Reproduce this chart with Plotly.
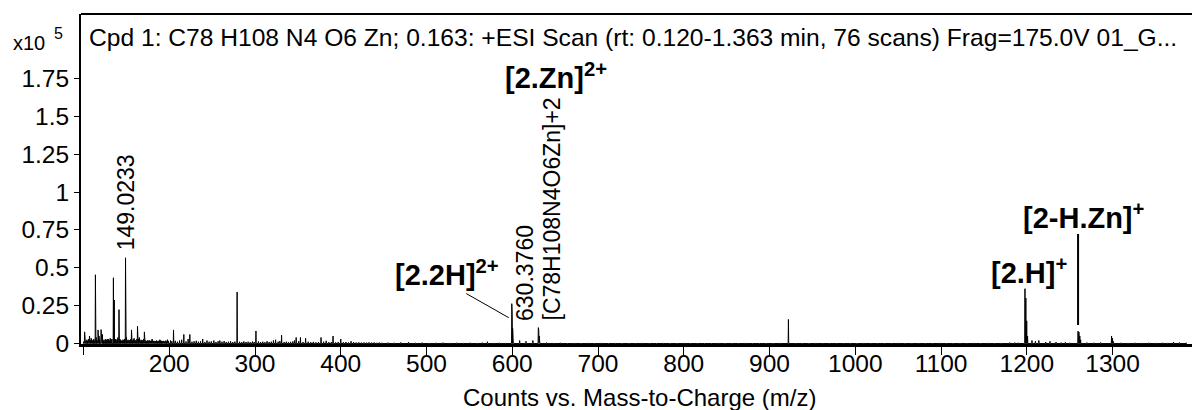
import plotly.graph_objects as go

# ---------------- data (intensity in units of 1e5 counts) ----------------
peak_mz = [101.3, 107.0, 113.9, 117.0, 120.5, 128.0, 134.9, 135.9, 141.4, 149.0233,
           156.0, 163.0, 171.0, 180.0, 189.0, 198.0, 205.0, 217.0, 224.0, 239.0,
           252.0, 259.0, 279.16, 301.1, 324.0, 331.0, 348.0, 353.0, 359.0, 377.0,
           391.0, 400.0, 412.0, 479.0, 571.0, 599.42, 599.92, 600.42, 600.92, 608.6,
           616.0, 624.0, 630.376, 630.876, 631.376, 631.876, 922.01, 1180.0, 1197.84, 1198.84,
           1199.84, 1200.84, 1206.0, 1210.0, 1214.0, 1222.0, 1227.0, 1234.0, 1245.0, 1259.75,
           1260.75, 1261.75, 1262.75, 1298.8, 1299.8, 1300.8, 1371.0]
peak_int = [0.077, 0.05, 0.454, 0.09, 0.092, 0.03, 0.434, 0.287, 0.224, 0.566,
            0.09, 0.114, 0.077, 0.03, 0.025, 0.025, 0.09, 0.06, 0.06, 0.03,
            0.02, 0.02, 0.34, 0.083, 0.025, 0.055, 0.04, 0.04, 0.035, 0.04,
            0.05, 0.03, 0.015, 0.01, 0.012, 0.263, 0.20, 0.10, 0.04, 0.02,
            0.015, 0.02, 0.105, 0.09, 0.05, 0.02, 0.159, 0.006, 0.362, 0.30,
            0.15, 0.05, 0.02, 0.015, 0.02, 0.01, 0.015, 0.01, 0.008, 0.082,
            0.075, 0.05, 0.025, 0.05, 0.035, 0.015, 0.01]

noise_low_mz = [100.2, 101.9, 102.8, 104.0, 104.9, 105.8, 106.5, 108.1, 109.0, 110.1,
                111.0, 112.0, 112.9, 114.8, 115.9, 118.1, 119.0, 121.2, 122.1, 123.1,
                124.0, 125.1, 126.0, 127.1, 129.1, 130.0, 131.1, 132.0, 133.1, 137.1,
                138.0, 139.1, 140.1, 142.2, 143.1, 144.0, 145.1, 146.0, 147.1, 148.1,
                150.0, 151.1, 152.0, 153.1, 154.0, 155.1, 157.0, 158.1, 159.0, 160.1,
                161.0, 162.1, 164.0, 165.1, 166.0, 167.1, 168.0, 169.1, 170.0, 172.1,
                173.0, 174.1, 175.0, 176.1, 177.0, 178.1, 179.0, 181.1, 182.0, 183.1,
                184.0, 185.1, 186.0, 187.1, 188.0, 190.1, 191.0, 192.1, 193.0, 194.1,
                195.0, 196.1, 197.0, 199.1]
noise_low_int = [0.012, 0.03, 0.018, 0.025, 0.015, 0.028, 0.02, 0.022, 0.035, 0.016,
                 0.024, 0.03, 0.018, 0.04, 0.022, 0.05, 0.026, 0.035, 0.06, 0.02,
                 0.025, 0.018, 0.03, 0.022, 0.028, 0.02, 0.035, 0.025, 0.03, 0.03,
                 0.022, 0.028, 0.04, 0.03, 0.025, 0.02, 0.018, 0.026, 0.022, 0.03,
                 0.04, 0.02, 0.025, 0.018, 0.022, 0.03, 0.02, 0.026, 0.035, 0.018,
                 0.022, 0.028, 0.03, 0.04, 0.02, 0.025, 0.018, 0.022, 0.03, 0.02,
                 0.018, 0.015, 0.022, 0.018, 0.02, 0.016, 0.02, 0.014, 0.018, 0.015,
                 0.016, 0.02, 0.014, 0.018, 0.015, 0.02, 0.016, 0.014, 0.018, 0.012,
                 0.015, 0.02, 0.013, 0.016]

noise_mid_mz = [201.5, 203.0, 207.0, 209.5, 212.0, 214.5, 219.5, 222.0, 226.5, 229.0,
                231.5, 234.0, 236.5, 241.5, 244.0, 246.5, 249.0, 254.5, 257.0, 261.5,
                264.0, 266.5, 269.0, 271.5, 274.0, 276.5, 282.0, 284.5, 287.0, 289.5,
                292.0, 294.5, 297.0, 299.0, 304.0, 306.5, 309.0, 311.5, 314.0, 316.5,
                319.0, 321.5, 327.0, 329.0, 334.0, 336.5, 339.0, 341.5, 344.0, 346.0,
                351.0, 356.0, 362.0, 365.0, 368.0, 371.0, 374.0, 380.0, 383.0, 386.0,
                389.0, 394.0, 397.0, 403.0, 406.0, 409.0, 415.0, 418.0, 421.0, 424.0,
                427.0, 430.0, 433.0, 436.0, 439.0, 442.0, 445.0, 448.0]
noise_mid_int = [0.02, 0.015, 0.018, 0.012, 0.02, 0.025, 0.014, 0.03, 0.012, 0.015,
                 0.018, 0.012, 0.015, 0.01, 0.02, 0.012, 0.014, 0.01, 0.015, 0.012,
                 0.016, 0.01, 0.012, 0.015, 0.01, 0.013, 0.012, 0.01, 0.014, 0.01,
                 0.012, 0.009, 0.013, 0.01, 0.014, 0.01, 0.012, 0.009, 0.015, 0.01,
                 0.012, 0.02, 0.012, 0.016, 0.01, 0.012, 0.009, 0.011, 0.013, 0.02,
                 0.015, 0.01, 0.012, 0.009, 0.011, 0.008, 0.01, 0.012, 0.018, 0.009,
                 0.01, 0.008, 0.01, 0.008, 0.01, 0.007, 0.009, 0.007, 0.008, 0.006,
                 0.007, 0.006, 0.008, 0.006, 0.007, 0.005, 0.006, 0.005]

noise_high_mz = [455, 462, 470, 487, 495, 503, 511, 519, 527, 535,
                 543, 551, 559, 565, 578, 585, 592, 640, 648, 656,
                 664, 672, 680, 688, 696, 704, 712, 720, 728, 736,
                 744, 752, 760, 768, 776, 784, 792, 800, 808, 816,
                 824, 832, 840, 848, 856, 864, 872, 880, 888, 896,
                 904, 912, 930, 938, 946, 954, 962, 970, 978, 986,
                 994, 1002, 1010, 1018, 1026, 1034, 1042, 1050, 1058, 1066,
                 1074, 1082, 1090, 1098, 1106, 1114, 1122, 1130, 1138, 1146,
                 1154, 1162, 1170, 1186, 1190, 1240, 1250, 1270, 1278, 1286,
                 1310, 1318, 1326, 1334, 1342, 1350, 1358, 1364, 1378, 1386]
noise_high_int = [0.006, 0.005, 0.007, 0.005, 0.006, 0.004, 0.005, 0.006, 0.004, 0.005,
                  0.004, 0.005, 0.004, 0.006, 0.004, 0.005, 0.004, 0.006, 0.004, 0.005,
                  0.003, 0.004, 0.003, 0.004, 0.003, 0.004, 0.003, 0.004, 0.003, 0.003,
                  0.003, 0.004, 0.003, 0.003, 0.004, 0.003, 0.003, 0.004, 0.003, 0.003,
                  0.003, 0.003, 0.004, 0.003, 0.003, 0.003, 0.004, 0.003, 0.003, 0.003,
                  0.003, 0.004, 0.003, 0.003, 0.003, 0.004, 0.003, 0.003, 0.003, 0.003,
                  0.003, 0.003, 0.004, 0.003, 0.003, 0.003, 0.003, 0.004, 0.003, 0.003,
                  0.003, 0.003, 0.003, 0.004, 0.003, 0.003, 0.003, 0.003, 0.004, 0.003,
                  0.004, 0.003, 0.004, 0.006, 0.005, 0.006, 0.005, 0.006, 0.005, 0.006,
                  0.005, 0.004, 0.005, 0.004, 0.005, 0.004, 0.005, 0.004, 0.006, 0.005]

x_tickvals = [100, 200, 300, 400, 500, 600, 700, 800, 900, 1000, 1100, 1200, 1300]
x_ticktext = ["", "200", "300", "400", "500", "600", "700", "800", "900", "1000", "1100", "1200", "1300"]
y_tickvals = [0, 0.25, 0.5, 0.75, 1, 1.25, 1.5, 1.75]
y_ticktext = ["0", "0.25", "0.5", "0.75", "1", "1.25", "1.5", "1.75"]

title_text = "Cpd 1: C78 H108 N4 O6 Zn; 0.163: +ESI Scan (rt: 0.120-1.363 min, 76 scans) Frag=175.0V 01_G..."
x_title = "Counts vs. Mass-to-Charge (m/z)"

# ---------------- build profile line ----------------
all_mz = peak_mz + noise_low_mz + noise_mid_mz + noise_high_mz
all_int = peak_int + noise_low_int + noise_mid_int + noise_high_int
pairs = sorted(zip(all_mz, all_int))
HALF = 0.3
xs, ys = [], []
for m, h in pairs:
    xs += [m - HALF, m, m + HALF]
    ys += [0, h, 0]

def pk(m):
    return peak_int[peak_mz.index(m)]

FONT = "Liberation Sans, Arial, sans-serif"
BOLD = "Liberation Sans, Arial, sans-serif"

fig = go.Figure()
fig.add_trace(go.Scatter(x=xs, y=ys, mode="lines", line=dict(color="black", width=1),
                         hoverinfo="skip", showlegend=False))

ann = []
# title inside plot
ann.append(dict(xref="paper", yref="paper", x=0, y=1, xanchor="left", yanchor="top",
                xshift=6, yshift=-8, text=title_text, showarrow=False,
                font=dict(family=FONT, size=24.6, color="black")))
# x axis title
ann.append(dict(xref="paper", yref="paper", x=0.5, y=0, xanchor="center", yanchor="middle",
                xshift=3, yshift=-53, text=x_title, showarrow=False,
                font=dict(family=FONT, size=24, color="black")))
# x10^5
ann.append(dict(xref="paper", yref="paper", x=0, y=1, xanchor="center", yanchor="middle",
                xshift=-52, yshift=-29, text="x10", showarrow=False,
                font=dict(family=FONT, size=20, color="black")))
ann.append(dict(xref="paper", yref="paper", x=0, y=1, xanchor="center", yanchor="middle",
                xshift=-23, yshift=-19, text="5", showarrow=False,
                font=dict(family=FONT, size=16, color="black")))
# rotated peak labels
ann.append(dict(x=149.0233, y=pk(149.0233), text="149.0233", textangle=-90, showarrow=False,
                xanchor="center", yanchor="bottom", yshift=5,
                font=dict(family=FONT, size=23, color="black")))
ann.append(dict(x=630.376, y=pk(630.376), text="630.3760", textangle=-90, showarrow=False,
                xanchor="center", yanchor="bottom", xshift=-14, yshift=5,
                font=dict(family=FONT, size=23, color="black")))
ann.append(dict(x=630.376, y=pk(630.376), text="[C78H108N4O6Zn]+2", textangle=-90, showarrow=False,
                xanchor="center", yanchor="bottom", xshift=14, yshift=5,
                font=dict(family=FONT, size=23, color="black")))
# bold ion labels
bold = dict(family=BOLD, size=29, color="black", weight="bold")
ann.append(dict(x=630.376, y=pk(630.376), text="[2.Zn]<sup>2+</sup>", showarrow=False,
                xanchor="center", yanchor="bottom", xshift=18, yshift=232, font=bold))
ann.append(dict(x=599.42, y=pk(599.42), text="[2.2H]<sup>2+</sup>", showarrow=False,
                xanchor="right", yanchor="middle", xshift=-11, yshift=31, font=bold))
ann.append(dict(x=599.42, y=pk(599.42), text=" ", showarrow=True, arrowhead=0, arrowwidth=1,
                arrowcolor="black", ax=-44, ay=-25, xshift=-3, yshift=-14,
                font=dict(size=1)))
ann.append(dict(x=1197.84, y=pk(1197.84), text="[2.H]<sup>+</sup>", showarrow=False,
                xanchor="center", yanchor="bottom", xshift=4, yshift=-2, font=bold))
ann.append(dict(x=1259.75, y=pk(1259.75), text="[2-H.Zn]<sup>+</sup>", showarrow=False,
                xanchor="center", yanchor="bottom", xshift=6, yshift=95, font=bold))
ann.append(dict(x=1259.75, y=pk(1259.75), text=" ", showarrow=True, arrowhead=0, arrowwidth=2,
                arrowcolor="black", ax=0, ay=-93, yshift=6, font=dict(size=1)))

fig.update_layout(
    width=1192, height=410,
    margin=dict(l=81, r=0, t=14, b=66),
    paper_bgcolor="white", plot_bgcolor="white",
    showlegend=False,
    annotations=ann,
    shapes=[dict(type="line", xref="paper", yref="paper", x0=0, x1=1, y0=1, y1=1,
                 line=dict(color="black", width=2))],
    xaxis=dict(range=[97.1, 1392.6], tickvals=x_tickvals, ticktext=x_ticktext,
               ticks="outside", ticklen=8, tickwidth=1, tickcolor="black",
               showline=True, linecolor="black", linewidth=3,
               showgrid=False, zeroline=False, ticklabelstandoff=-12,
               tickfont=dict(family=FONT, size=24.5, color="black")),
    yaxis=dict(range=[-0.003, 2.175], tickvals=y_tickvals, ticktext=y_ticktext,
               ticks="outside", ticklen=5, tickwidth=1, tickcolor="black",
               showline=True, linecolor="black", linewidth=2,
               showgrid=False, zeroline=False,
               tickfont=dict(family=FONT, size=24.5, color="black")),
)

fig.write_html("out.html")
